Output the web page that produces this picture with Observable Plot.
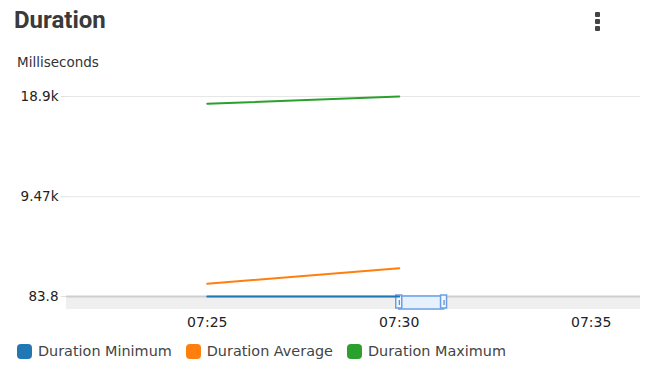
<!DOCTYPE html>
<html>
<head>
<meta charset="utf-8">
<script src="https://cdn.jsdelivr.net/npm/d3@7"></script>
<script src="https://cdn.jsdelivr.net/npm/@observablehq/plot@0.6"></script>
<style>
  html, body { margin: 0; padding: 0; background: #fff; }
  #wrap { position: relative; width: 668px; height: 377px; overflow: hidden; }
  #title { position: absolute; left: 14px; top: 6px; font: bold 24px Roboto, sans-serif; color: #3a3a3a; }
  #unit { position: absolute; left: 17px; top: 54px; font: 13.5px "DejaVu Sans", sans-serif; color: #333; }
  #kebab { position: absolute; left: 595px; top: 12px; width: 6px; }
  #kebab div { width: 5px; height: 5px; background: #444; margin-bottom: 2px; border-radius: 1px; }
  #chart { position: absolute; left: 0; top: 0; }
  #legend { position: absolute; left: 17px; top: 343px; display: flex; font: 14.4px "DejaVu Sans", sans-serif; color: #444; }
  .item { display: flex; align-items: center; margin-right: 14px; }
  .sw { width: 15px; height: 15px; border-radius: 4px; margin-right: 6px; }
</style>
</head>
<body>
<div id="wrap">
  <div id="chart"></div>
  <div id="title">Duration</div>
  <div id="unit">Milliseconds</div>
  <div id="kebab"><div></div><div></div><div></div></div>
  <div id="legend"></div>
</div>
<script>
// ---- data ----
const times = ["07:25", "07:30"];
const durationMinimum = [83.8, 83.8];
const durationAverage = [1279, 2746];
const durationMaximum = [18213, 18900];
const seriesNames = ["Duration Minimum", "Duration Average", "Duration Maximum"];
const seriesColors = ["#1f77b4", "#ff7f0e", "#2ca02c"];
const yTicks = [83.8, 9470, 18900];
const yTickLabels = ["83.8", "9.47k", "18.9k"];
const xTickLabels = ["07:25", "07:30", "07:35"];
const xDomainLabels = ["07:21:20", "07:36:17"];
const brushLabels = ["07:30:00", "07:31:10"];

const t = s => new Date("2024-01-01T" + (s.length === 5 ? s + ":00" : s) + "Z");

const rows = [];
[durationMinimum, durationAverage, durationMaximum].forEach((vals, si) => {
  vals.forEach((v, i) => rows.push({time: t(times[i]), value: v, series: seriesNames[si]}));
});

const xDomain = xDomainLabels.map(t);
const brush = brushLabels.map(t);
const yMin = yTicks[0];
const labelMap = new Map(yTicks.map((d, i) => [d, yTickLabels[i]]));

const chart = Plot.plot({
  width: 668,
  height: 335,
  marginTop: 96,
  marginBottom: 39,
  marginLeft: 66,
  marginRight: 28,
  style: {fontFamily: "DejaVu Sans, sans-serif", fontSize: "13.5px", color: "#222", background: "transparent"},
  x: {type: "utc", domain: xDomain},
  y: {type: "linear", domain: [yTicks[0], yTicks[2]]},
  color: {domain: seriesNames, range: seriesColors},
  marks: [
    Plot.gridY(yTicks, {stroke: "#e6e6e6", strokeOpacity: 1}),
    Plot.axisY(yTicks, {tickFormat: d => labelMap.get(d), tickSize: 5, tickPadding: 3, stroke: "#e0e0e0", label: null, fontSize: 13.5}),
    Plot.axisX(xTickLabels.map(t), {tickFormat: d3.utcFormat("%H:%M"), tickSize: 0, tickPadding: 21, label: null, fontSize: 14}),
    // overview band
    Plot.rect([0], {x1: () => xDomain[0], x2: () => xDomain[1], y1: () => yMin, y2: () => yMin, insetBottom: -13, fill: "#efefef"}),
    Plot.ruleY([yMin], {stroke: "#cfcfcf", strokeWidth: 2}),
    // brush
    Plot.rect([0], {x1: () => brush[0], x2: () => brush[1], y1: () => yMin, y2: () => yMin, insetBottom: -13, fill: "#e6f1fd", stroke: "#6a9fe6", strokeWidth: 1.5}),
    Plot.rect(brush, {x1: d => d, x2: d => d, y1: () => yMin, y2: () => yMin, insetLeft: -3, insetRight: -3, insetTop: -1, insetBottom: -12, fill: "#f4f8fe", stroke: "#6a9fe6", strokeWidth: 1.5}),
    Plot.ruleX(brush, {x: d => d, y1: () => yMin, y2: () => yMin, insetTop: 4, insetBottom: -9, stroke: "#3a6fc0", strokeWidth: 1}),
    // series
    Plot.line(rows, {x: "time", y: "value", z: "series", stroke: "series", strokeWidth: 2})
  ]
});
document.getElementById("chart").appendChild(chart);

const legend = document.getElementById("legend");
seriesNames.forEach((n, i) => {
  const it = document.createElement("div");
  it.className = "item";
  it.innerHTML = `<span class="sw" style="background:${seriesColors[i]}"></span><span>${n}</span>`;
  legend.appendChild(it);
});
</script>
</body>
</html>
